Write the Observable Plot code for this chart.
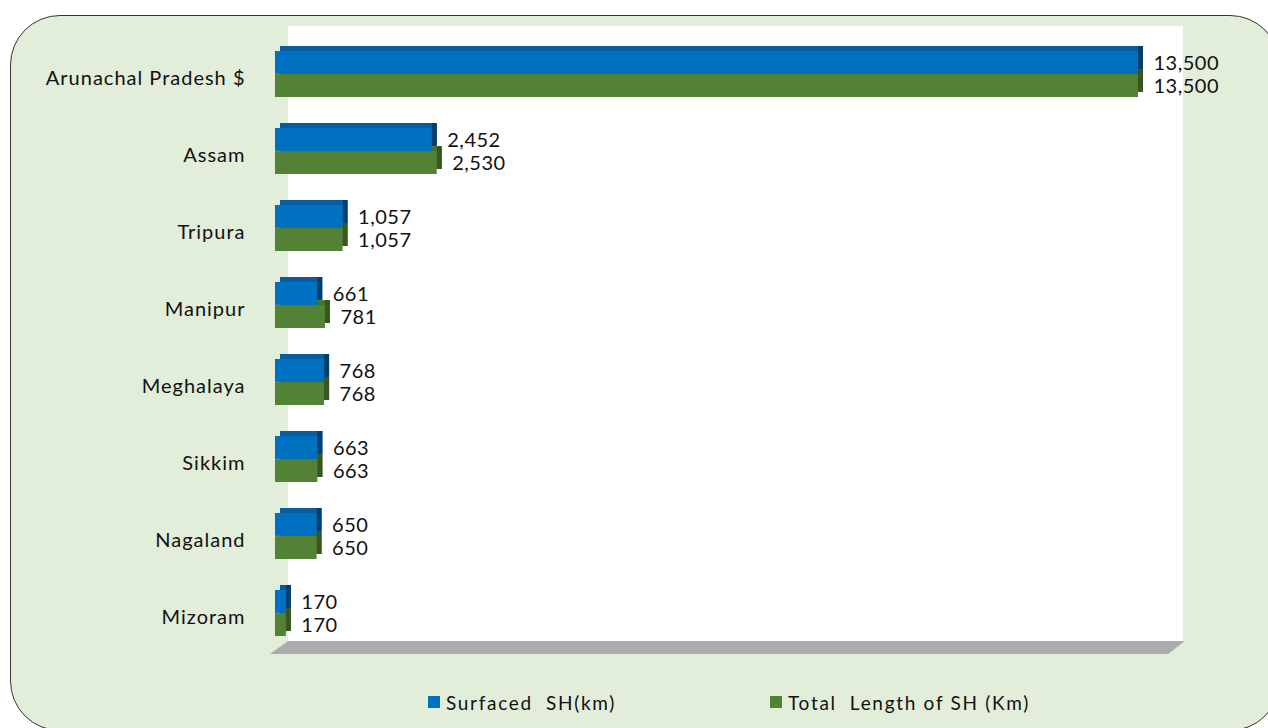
<!DOCTYPE html>
<html>
<head>
<meta charset="utf-8">
<script src="https://cdn.jsdelivr.net/npm/d3@7"></script>
<script src="https://cdn.jsdelivr.net/npm/@observablehq/plot@0.6"></script>
<style>
  html, body { margin: 0; padding: 0; background: #ffffff; }
  #stage { position: relative; width: 1268px; height: 728px; overflow: hidden; font-family: Lato, "Open Sans", sans-serif; }
  #panel { position: absolute; left: 10px; top: 15px; width: 1270px; height: 716px; box-sizing: border-box;
           background: #e2eed9; border: 1.5px solid #333; border-radius: 50px; }
  #wall { position: absolute; left: 288px; top: 26px; width: 895px; height: 615px; background: #ffffff; }
  #floor { position: absolute; left: 270px; top: 641px; width: 915px; height: 13px; background: #ababab;
           clip-path: polygon(18px 0, 915px 0, 898px 13px, 0 13px); }
  #chart { position: absolute; left: 0; top: 0; }
  #legend { position: absolute; top: 688px; left: 0; width: 1268px; height: 28px; font-size: 19px; color: #111; letter-spacing: 1.7px; }
  .item { position: absolute; top: 0; display: flex; align-items: center; height: 28px; }
  .sw { width: 12px; height: 12px; margin-right: 6px; }
  #chart svg text { letter-spacing: 0.5px; }
  #chart svg g[aria-label="y-axis tick label"] text { letter-spacing: 1px; }
</style>
</head>
<body>
<div id="stage">
  <div id="panel"></div>
  <div id="wall"></div>
  <div id="floor"></div>
  <div id="chart"></div>
  <div id="legend"></div>
</div>
<script>
// ---- data ----
const states = ["Arunachal Pradesh $", "Assam", "Tripura", "Manipur", "Meghalaya", "Sikkim", "Nagaland", "Mizoram"];
const surfaced = [13500, 2452, 1057, 661, 768, 663, 650, 170];
const totalLength = [13500, 2530, 1057, 781, 768, 663, 650, 170];
const seriesNames = ["Surfaced  SH(km)", "Total  Length of SH (Km)"];
const seriesColors = ["#0070c0", "#538135"];
const seriesTop = ["#0b5c9e", "#46722b"];
const seriesSide = ["#00406f", "#375621"];

const blueRows = states.map((s, i) => ({state: s, value: surfaced[i]}));
const greenRows = states.map((s, i) => ({state: s, value: totalLength[i]}));

// ---- layout ----
const W = 1268, H = 728;
const yRange = [35.5, 651.5];
const pIn = 0.4, pOut = 0.2;
const step = (yRange[1] - yRange[0]) / (states.length - pIn + 2 * pOut);
const bw = step * (1 - pIn);
const half = bw / 2;
const depth = 5;
const fmt = d3.format(",");

function bars3d(rows, i, insets) {
  return [
    Plot.barX(rows, {x: "value", y: "state", fill: seriesTop[i], ...insets, dx: depth, dy: -depth}),
    Plot.barX(rows, {x1: "value", x2: "value", y: "state", fill: seriesSide[i], ...insets, insetRight: -depth, dx: 0, dy: -depth}),
    Plot.barX(rows, {x: "value", y: "state", fill: seriesColors[i], ...insets})
  ];
}

const chart = Plot.plot({
  width: W,
  height: H,
  marginLeft: 275,
  marginRight: 130,
  marginTop: yRange[0],
  marginBottom: H - yRange[1],
  style: {background: "transparent", fontFamily: "Lato, 'Open Sans', sans-serif", overflow: "visible"},
  x: {domain: [0, 13500], axis: null},
  y: {domain: states, paddingInner: pIn, paddingOuter: pOut, label: null},
  marks: [
    Plot.axisY({tickSize: 0, tickPadding: 30, fontSize: 20, dy: 4, fill: "#111", label: null}),
    ...bars3d(greenRows, 1, {insetTop: half}),
    ...bars3d(blueRows, 0, {insetBottom: half}),
    Plot.text(blueRows, {x: "value", y: "state", text: d => fmt(d.value), textAnchor: "start", dx: 15, dy: -half / 2 + 1, fontSize: 20, fill: "#111"}),
    Plot.text(greenRows, {x: "value", y: "state", text: d => fmt(d.value), textAnchor: "start", dx: 15, dy: half / 2 + 1, fontSize: 20, fill: "#111"})
  ]
});
document.getElementById("chart").appendChild(chart);

// ---- legend ----
const legendX = [428, 770];
const legend = document.getElementById("legend");
seriesNames.forEach((name, i) => {
  const item = document.createElement("div");
  item.className = "item";
  item.style.left = legendX[i] + "px";
  item.innerHTML = `<span class="sw" style="background:${seriesColors[i]}"></span><span>${name.replace(/  /g, "&nbsp; ")}</span>`;
  legend.appendChild(item);
});
</script>
</body>
</html>
